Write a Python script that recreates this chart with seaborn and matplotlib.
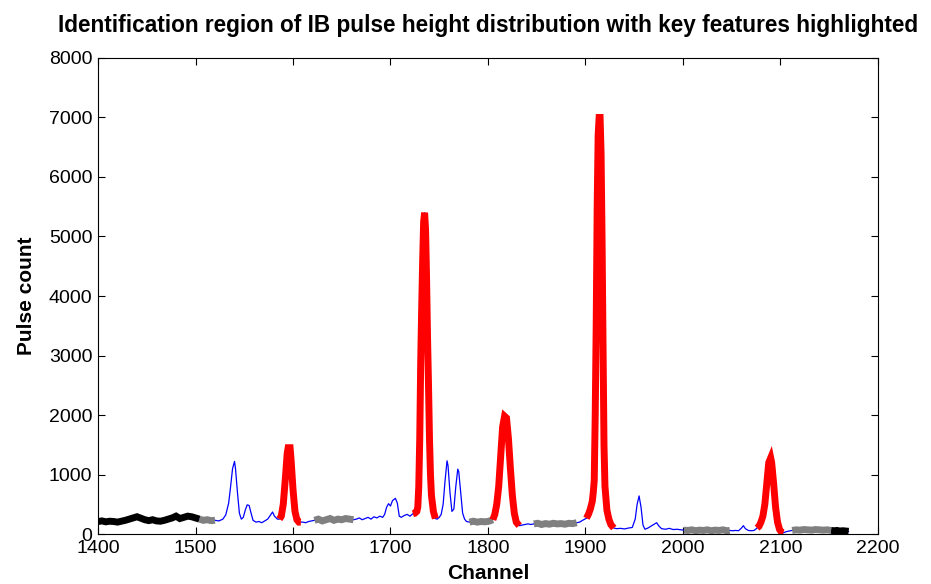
import numpy as np
import pandas as pd
import matplotlib
matplotlib.use("Agg")
import matplotlib.pyplot as plt
import seaborn as sns

# pulse height spectrum (channel, count)
channel = [
    # low-channel baseline
    1400, 1404, 1408, 1412, 1416, 1420, 1424, 1428, 1432, 1436, 1440, 1444, 1448,
    1452, 1456, 1460, 1464, 1468, 1472, 1476, 1480, 1484, 1488, 1492, 1496, 1500,
    1504, 1508, 1512, 1516, 1520,
    # 1540 / 1554 peaks
    1524, 1528, 1531, 1534, 1536, 1538, 1540, 1541, 1543, 1545, 1547, 1549, 1551,
    1553, 1555, 1557, 1559, 1562, 1565, 1568, 1571, 1574, 1577, 1579, 1581, 1584,
    # 1595 peak
    1586, 1588, 1590, 1592, 1594, 1595, 1597, 1598, 1600, 1602, 1604, 1606, 1608,
    1610, 1613, 1616, 1619,
    1622, 1626, 1630, 1634, 1638, 1642, 1646, 1650, 1654, 1658, 1662,
    1665, 1668, 1671, 1674, 1677, 1680, 1683, 1686, 1689, 1692, 1694, 1696, 1698,
    1700, 1702, 1705, 1707, 1709, 1711, 1714, 1717, 1720,
    # 1735 peak
    1723, 1725, 1727, 1728, 1729, 1730, 1731, 1732, 1733, 1734, 1735, 1736, 1737,
    1738, 1739, 1740, 1741, 1742, 1744, 1746,
    # 1758 / 1769 doublet
    1748, 1750, 1752, 1754, 1756, 1758, 1759, 1761, 1763, 1765, 1767, 1769, 1770,
    1772, 1774, 1776, 1778,
    1781, 1785, 1789, 1793, 1797, 1801,
    # 1818 peak
    1805, 1807, 1809, 1811, 1813, 1815, 1817, 1819, 1821, 1823, 1825, 1827, 1829,
    1832,
    1835, 1838, 1841, 1844,
    1847, 1851, 1855, 1859, 1863, 1867, 1871, 1875, 1879, 1883, 1887, 1891,
    1894, 1897,
    # 1914 peak
    1901, 1903, 1905, 1907, 1908, 1909, 1910, 1911, 1912, 1913, 1914, 1915, 1916,
    1917, 1918, 1919, 1920, 1922, 1924, 1926, 1929,
    # 1955 peak
    1932, 1936, 1940, 1944, 1948, 1951, 1953, 1955, 1957, 1959, 1961, 1964, 1967,
    1970, 1973, 1975, 1978, 1982, 1986, 1990, 1994, 1998,
    2001, 2005, 2009, 2013, 2017, 2021, 2025, 2029, 2033, 2037, 2041, 2045, 2048,
    2051, 2054, 2057, 2060, 2062, 2064, 2067, 2070, 2073,
    # 2089 peak
    2076, 2078, 2080, 2082, 2084, 2086, 2088, 2090, 2091, 2093, 2095, 2097, 2099,
    2101, 2103,
    2106, 2109,
    2112, 2116, 2120, 2124, 2128, 2132, 2136, 2140, 2144, 2148, 2152,
    2155, 2158, 2161, 2164, 2167, 2170,
]
counts = [
    210, 220, 205, 215, 210, 200, 215, 230, 250, 270, 290, 265, 240,
    225, 240, 220, 215, 230, 250, 270, 300, 260, 280, 300, 290, 270,
    250, 230, 240, 225, 230,
    220, 250, 320, 520, 800, 1100, 1220, 1100, 700, 350, 250, 280, 400,
    490, 480, 350, 230, 200, 210, 190, 220, 250, 320, 370, 300, 250,
    250, 300, 500, 900, 1350, 1450, 1450, 1250, 750, 380, 240, 200, 200,
    200, 190, 210, 220,
    230, 250, 220, 240, 260, 230, 250, 240, 260, 250, 240,
    250, 270, 240, 260, 280, 250, 290, 270, 300, 280, 330, 450, 510,
    470, 560, 600, 520, 300, 280, 310, 330, 300,
    340, 350, 380, 450, 800, 1600, 2900, 3800, 4600, 5250, 5400, 5100, 4300,
    3300, 2500, 1600, 1000, 650, 380, 260,
    250, 280, 330, 500, 900, 1230, 1150, 700, 380, 420, 800, 1090, 1050,
    700, 350, 250, 210,
    200, 215, 200, 210, 205, 215,
    240, 330, 500, 800, 1300, 1800, 1980, 1950, 1600, 1100, 650, 350, 200,
    140,
    150, 160, 170, 160,
    170, 180, 160, 175, 165, 180, 170, 175, 165, 180, 175, 190,
    200, 230,
    265, 330, 420, 550, 700, 900, 2000, 3500, 5500, 6700, 7000, 7000, 6400,
    5000, 3200, 1500, 800, 400, 250, 160, 100,
    90, 95, 85, 100, 110, 250, 500, 640, 450, 150, 80, 100, 130,
    160, 190, 140, 90, 80, 95, 75, 80, 70,
    65, 60, 70, 55, 65, 60, 70, 55, 65, 60, 70, 55, 60,
    55, 60, 55, 100, 140, 90, 60, 55, 60,
    100, 130, 200, 300, 500, 850, 1200, 1280, 1200, 850, 450, 200, 80,
    30, 20,
    40, 50,
    60, 70, 65, 75, 70, 65, 75, 70, 65, 70, 60,
    55, 60, 50, 55, 50, 45,
]

# highlighted regions (channel ranges and colour)
seg_start = [1400, 1504, 1586, 1622, 1723, 1781, 1805, 1847, 1901, 2001, 2076, 2112, 2152]
seg_end = [1504, 1520, 1608, 1662, 1746, 1805, 1832, 1891, 1929, 2048, 2103, 2152, 2170]
seg_color = ['black', 'gray', 'red', 'gray', 'red', 'gray', 'red', 'gray', 'red',
             'gray', 'red', 'gray', 'black']

colors = {'black': '#000000', 'gray': '#808080', 'red': '#ff0000'}

df = pd.DataFrame({'channel': channel, 'count': counts})

sns.set_theme(style="white")
plt.rcParams['font.family'] = ['Liberation Sans', 'DejaVu Sans']
plt.rcParams['text.color'] = 'black'
plt.rcParams['axes.labelcolor'] = 'black'

fig = plt.figure(figsize=(9.31, 5.84), dpi=100)
ax = fig.add_axes([0.1053, 0.0856, 0.8377, 0.8151])

sns.lineplot(data=df, x='channel', y='count', color='#0000ff', linewidth=0.9,
             sort=False, estimator=None, ax=ax)

for s, e, c in zip(seg_start, seg_end, seg_color):
    part = df[(df['channel'] >= s) & (df['channel'] <= e)]
    sns.lineplot(data=part, x='channel', y='count', color=colors[c], linewidth=5,
                 sort=False, estimator=None, ax=ax, solid_joinstyle='miter',
                 solid_capstyle='butt')

ax.set_xlim(1400, 2200)
ax.set_ylim(0, 8000)
ax.set_xticks(np.arange(1400, 2201, 100))
ax.set_yticks(np.arange(0, 8001, 1000))
ax.tick_params(direction='in', length=5, width=0.8, colors='black', labelsize=14,
               top=True, right=True, bottom=True, left=True, pad=4)
for sp in ax.spines.values():
    sp.set_visible(True)
    sp.set_color('black')
    sp.set_linewidth(0.8)

ax.set_xlabel('Channel', fontsize=15, fontweight='bold', labelpad=5, color='black')
ax.set_ylabel('Pulse count', fontsize=15, fontweight='bold', labelpad=9, color='black')
ax.set_title('Identification region of IB pulse height distribution with key features highlighted',
             fontsize=16.3, fontweight='bold', pad=19, color='black')

fig.savefig('out.png', dpi=100)
